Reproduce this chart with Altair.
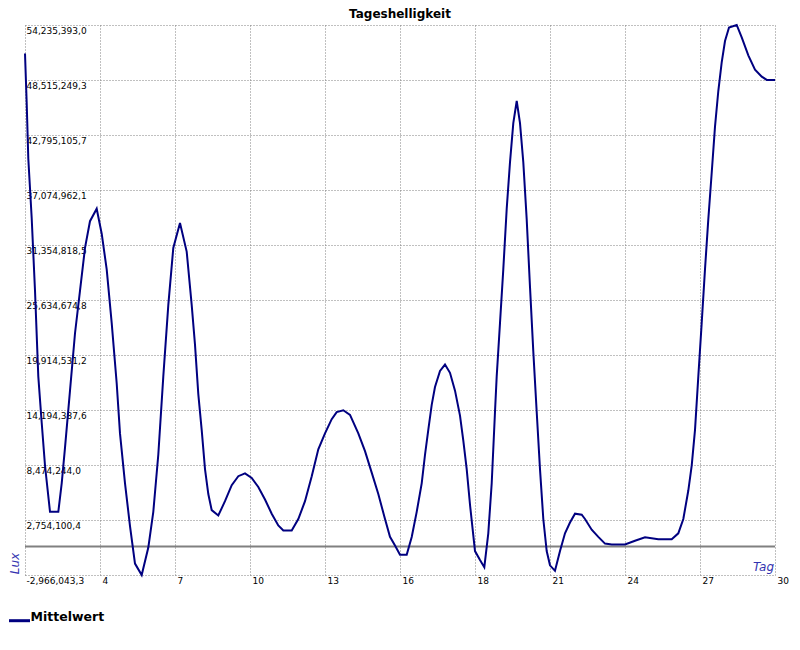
import altair as alt
import pandas as pd

# Day (x) positions and daily brightness means (Lux)
days = [
    1.000, 1.066, 1.128, 1.259, 1.387, 1.514, 1.646, 1.773, 1.967, 2.288,
    2.419, 2.547, 2.740, 2.933, 3.127, 3.320, 3.513, 3.772, 3.966, 4.159,
    4.352, 4.546, 4.673, 4.867, 5.060, 5.253, 5.512, 5.768, 5.961, 6.154,
    6.348, 6.541, 6.734, 6.993, 7.252, 7.446, 7.573, 7.701, 7.832, 7.960,
    8.088, 8.219, 8.474, 8.733, 8.993, 9.248, 9.507, 9.766, 10.021, 10.280,
    10.539, 10.794, 10.988, 11.313, 11.568, 11.827, 12.087, 12.341, 12.600, 12.859,
    13.052, 13.308, 13.567, 13.888, 14.147, 14.406, 14.661, 14.920, 15.113, 15.307,
    15.500, 15.759, 15.953, 16.146, 16.339, 16.467, 16.594, 16.726, 16.853, 17.047,
    17.240, 17.433, 17.627, 17.820, 17.948, 18.079, 18.207, 18.400, 18.593, 18.760,
    18.914, 19.046, 19.173, 19.239, 19.367, 19.494, 19.626, 19.753, 19.881, 20.013,
    20.140, 20.268, 20.399, 20.527, 20.654, 20.786, 20.913, 21.041, 21.172, 21.300,
    21.493, 21.687, 21.880, 22.073, 22.267, 22.526, 22.653, 22.912, 23.168, 23.427,
    23.686, 24.200, 24.587, 24.974, 25.488, 26.006, 26.261, 26.455, 26.648, 26.779,
    26.907, 27.035, 27.166, 27.293, 27.421, 27.552, 27.680, 27.808, 27.939, 28.067,
    28.222, 28.519, 28.713, 28.968, 29.227, 29.488, 29.681, 30.000,
]
lux = [
    51270000, 46070000, 40320000, 34130000, 26600000, 17690000, 12870000, 8420000, 3600000, 3600000,
    6570000, 10280000, 16210000, 22150000, 26600000, 31050000, 33830000, 35130000, 32530000, 28820000,
    23260000, 16950000, 11760000, 6570000, 2120000, -1780000, -2966043, -110000, 3600000, 9540000,
    17690000, 25100000, 31050000, 33640000, 30670000, 25100000, 21000000, 15840000, 12130000, 8050000,
    5450000, 3780000, 3220000, 4710000, 6380000, 7310000, 7600000, 7120000, 6190000, 4890000,
    3410000, 2190000, 1670000, 1670000, 2850000, 4710000, 7310000, 10100000, 11760000, 13240000,
    13980000, 14170000, 13690000, 11760000, 9910000, 7680000, 5450000, 2860000, 1000000, 100000,
    -850000, -850000, 990000, 3600000, 6570000, 9540000, 12130000, 14730000, 16580000, 18250000,
    18920000, 18060000, 16210000, 13610000, 11020000, 8050000, 4340000, -480000, -1410000, -2150000,
    1370000, 6570000, 13990000, 17690000, 23260000, 28820000, 35130000, 39950000, 44030000, 46330000,
    44030000, 39950000, 34020000, 26970000, 20290000, 13980000, 8050000, 2860000, -480000, -1960000,
    -2530000, -480000, 1370000, 2490000, 3410000, 3300000, 2860000, 1740000, 1000000, 300000,
    200000, 200000, 600000, 950000, 750000, 750000, 1370000, 2860000, 5820000, 8420000,
    12130000, 17690000, 23260000, 28820000, 34020000, 38840000, 43660000, 47370000, 50340000, 52570000,
    53980000, 54235393, 52940000, 51080000, 49600000, 48860000, 48520000, 48515249,
]

y_ticks = [-2966043.3, 2754100.4, 8474244.0, 14194387.6, 19914531.2, 25634674.8,
           31354818.5, 37074962.1, 42795105.7, 48515249.3, 54235393.0]
x_ticks = [1, 3.9, 6.8, 9.7, 12.6, 15.5, 18.4, 21.3, 24.2, 27.1, 30]

chart_title = "Tageshelligkeit"
x_title = "Tag"
y_title = "Lux"
series_name = "Mittelwert"

df = pd.DataFrame({"Tag": days, "Lux": lux})

FONT = "DejaVu Sans"
NAVY = "#000080"
TITLE_BLUE = "#3333b0"
GRID = "#808080"

x_scale = alt.Scale(domain=[1, 30], nice=False, zero=False)
y_scale = alt.Scale(domain=[y_ticks[0], y_ticks[-1]], nice=False, zero=False)

x_axis = alt.Axis(
    values=x_ticks, title=None, grid=True, gridDash=[1, 2], gridColor=GRID, gridWidth=1,
    domain=False, ticks=False, labelAlign="left", labelBaseline="top",
    labelPadding=1.5, labelOffset=2, labelFlush=False, labelOverlap=False,
    labelExpr="datum.value < 1.5 ? '' : format(round(datum.value), 'd')",
    labelFont=FONT, labelFontSize=9, labelColor="black",
)
y_axis = alt.Axis(
    values=y_ticks, title=None, grid=True, gridDash=[1, 2], gridColor=GRID, gridWidth=1,
    domain=False, ticks=False, labelAlign="left", labelBaseline="top",
    labelPadding=-1, labelOffset=1.5, labelFlush=False, labelOverlap=False,
    labelExpr="replace(replace(format(datum.value, ',.1f'), '.', ','), '\u2212', '-')",
    labelFont=FONT, labelFontSize=9, labelColor="black",
)

one = alt.Data(values=[{}])

zero_rule = alt.Chart(one).mark_rule(color=GRID, strokeWidth=2).encode(
    y=alt.Y(datum=0, scale=y_scale, axis=y_axis)
)

line = alt.Chart(df).mark_line(color=NAVY, strokeWidth=2).encode(
    x=alt.X("Tag:Q", scale=x_scale, axis=x_axis),
    y=alt.Y("Lux:Q", scale=y_scale, axis=y_axis),
)

title = alt.Chart(one).mark_text(
    text=chart_title, font=FONT, fontSize=12, fontWeight="bold",
    align="center", baseline="alphabetic", color="black",
).encode(x=alt.value(375), y=alt.value(-7.3))

lux_label = alt.Chart(one).mark_text(
    text=y_title, font=FONT, fontSize=12, fontStyle="italic", angle=270,
    align="center", baseline="alphabetic", color=TITLE_BLUE,
).encode(x=alt.value(-6.0), y=alt.value(538.5))

tag_label = alt.Chart(one).mark_text(
    text=x_title, font=FONT, fontSize=12, fontStyle="italic",
    align="right", baseline="alphabetic", color=TITLE_BLUE,
).encode(x=alt.value(749), y=alt.value(545.5))

legend_line = alt.Chart(one).mark_rule(color=NAVY, strokeWidth=3).encode(
    x=alt.value(-16), x2=alt.value(5), y=alt.value(595.7)
)
legend_text = alt.Chart(one).mark_text(
    text=series_name, font=FONT, fontSize=12.5, fontWeight="bold",
    align="left", baseline="alphabetic", color="black",
).encode(x=alt.value(5.5), y=alt.value(596))

chart = alt.layer(
    zero_rule, line, title, lux_label, tag_label, legend_line, legend_text
).properties(
    width=750, height=550,
    autosize=alt.AutoSizeParams(type="none"),
    padding={"left": 17, "top": 17, "right": 16, "bottom": 52},
    background="white",
).configure_view(stroke=None)

chart.save("out.html", embed_options={"renderer": "svg", "actions": False})
